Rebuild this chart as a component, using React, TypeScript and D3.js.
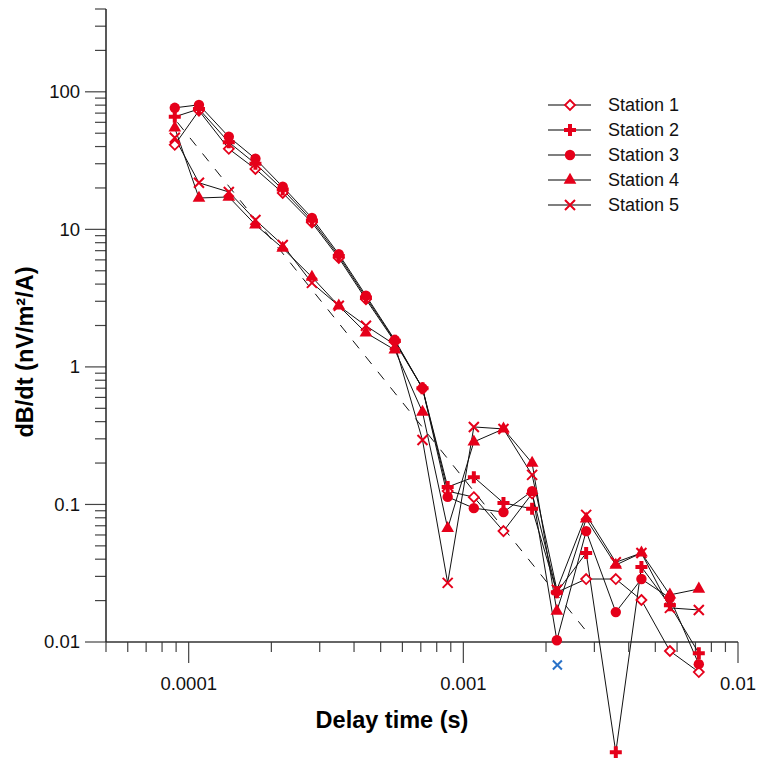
import React, { useEffect, useRef } from 'react';
import * as d3 from 'd3';

// gate times (s)
const times = [8.9e-5, 1.09e-4, 1.4e-4, 1.75e-4, 2.2e-4, 2.81e-4, 3.52e-4, 4.42e-4, 5.63e-4, 7.1e-4,
  8.77e-4, 1.092e-3, 1.4e-3, 1.78e-3, 2.19e-3, 2.8e-3, 3.59e-3, 4.45e-3, 5.65e-3, 7.2e-3];

const station1 = [41.2, 73, 38.5, 27.5, 18.4, 11.2, 6.2, 3.1, 1.52, 0.7, 0.125, 0.113, 0.064, 0.12, 0.023, 0.0287, 0.0287, 0.0202, 0.0086, 0.00605];
const station2 = [65.8, 75, 43, 30, 19.5, 11.6, 6.4, 3.2, 1.55, 0.7, 0.134, 0.158, 0.1026, 0.093, 0.023, 0.0444, 0.00158, 0.0351, 0.0185, 0.0083];
const station3 = [76.5, 80.4, 47.1, 32.6, 20.4, 12.1, 6.6, 3.3, 1.57, 0.7, 0.1135, 0.094, 0.088, 0.125, 0.0103, 0.064, 0.0165, 0.0287, 0.0209, 0.0069];
const station4 = [54.7, 16.9, 17.2, 10.8, 7.3, 4.5, 2.78, 1.77, 1.33, 0.47, 0.067, 0.285, 0.354, 0.2, 0.0168, 0.0785, 0.0363, 0.0444, 0.022, 0.0243];
const station5 = [46.3, 21.8, 18.7, 11.7, 7.7, 4.08, 2.78, 1.99, 1.45, 0.294, 0.0269, 0.366, 0.354, 0.164, 0.024, 0.084, 0.038, 0.0444, 0.0177, 0.0171];

const stationNames = ['Station 1', 'Station 2', 'Station 3', 'Station 4', 'Station 5'];
const markerKinds = ['diamond', 'plus', 'circle', 'triangle', 'cross'];

const xMajor = [1e-4, 1e-3, 1e-2];
const xTickLabels = ['0.0001', '0.001', '0.01'];
const yMajor = [0.01, 0.1, 1, 10, 100];
const yTickLabels = ['0.01', '0.1', '1', '10', '100'];

// dashed reference decay line (t^-2.5)
const trendLine: [number, number][] = [[9.1e-5, 60], [2.85e-3, 0.0115]];
// blue marker below the axis
const outlier: [number, number][] = [[2.2e-3, 0.0068]];

const RED = '#e5001a';
const FONT = 'Arial, "Liberation Sans", sans-serif';

function drawMarker(g: any, kind: string, cx: number, cy: number) {
  if (kind === 'diamond') {
    const s = 5;
    g.append('path')
      .attr('d', `M${cx},${cy - s}L${cx + s},${cy}L${cx},${cy + s}L${cx - s},${cy}Z`)
      .attr('fill', '#fff').attr('stroke', RED).attr('stroke-width', 1.8);
  } else if (kind === 'plus') {
    g.append('path')
      .attr('d', d3.symbol(d3.symbolCross, 80)())
      .attr('transform', `translate(${cx},${cy})`)
      .attr('fill', RED);
  } else if (kind === 'circle') {
    g.append('circle').attr('cx', cx).attr('cy', cy).attr('r', 5.2).attr('fill', RED);
  } else if (kind === 'triangle') {
    g.append('path')
      .attr('d', d3.symbol(d3.symbolTriangle, 70)())
      .attr('transform', `translate(${cx},${cy})`)
      .attr('fill', RED);
  } else {
    const s = 5;
    g.append('path')
      .attr('d', `M${cx - s},${cy - s}L${cx + s},${cy + s}M${cx - s},${cy + s}L${cx + s},${cy - s}`)
      .attr('stroke', RED).attr('stroke-width', 2).attr('fill', 'none');
  }
}

const App = () => {
  const ref = useRef<SVGSVGElement>(null);

  useEffect(() => {
    if (!ref.current) return;
    const svg = d3.select(ref.current);
    svg.selectAll('*').remove();

    const x = d3.scaleLog().domain([5e-5, 1e-2]).range([106, 738]);
    const y = d3.scaleLog().domain([0.01, 400]).range([642, 9]);

    const series = [station1, station2, station3, station4, station5];

    // axes
    const axes = svg.append('g');
    const xMinor = x.ticks().filter(t => !xMajor.some(m => Math.abs(m - t) / m < 1e-6));
    const yMinor = y.ticks().filter(t => !yMajor.some(m => Math.abs(m - t) / m < 1e-6));

    axes.selectAll('.xminor').data(xMinor).join('line')
      .attr('x1', d => x(d)).attr('x2', d => x(d))
      .attr('y1', y(0.01)).attr('y2', y(0.01) + 10)
      .attr('stroke', '#444').attr('stroke-width', 1.2);
    axes.selectAll('.xmajor').data(xMajor).join('line')
      .attr('x1', d => x(d)).attr('x2', d => x(d))
      .attr('y1', y(0.01)).attr('y2', y(0.01) + 21)
      .attr('stroke', '#444').attr('stroke-width', 1.2);
    axes.selectAll('.xlab').data(xMajor).join('text')
      .attr('x', d => x(d)).attr('y', 690)
      .attr('text-anchor', 'middle')
      .style('font-family', FONT).style('font-size', '18.5px').style('fill', '#111')
      .text((d, i) => xTickLabels[i]);

    axes.selectAll('.yminor').data(yMinor).join('line')
      .attr('x1', x(5e-5) - 11).attr('x2', x(5e-5))
      .attr('y1', d => y(d)).attr('y2', d => y(d))
      .attr('stroke', '#444').attr('stroke-width', 1.2);
    axes.selectAll('.ymajor').data(yMajor).join('line')
      .attr('x1', x(5e-5) - 21).attr('x2', x(5e-5))
      .attr('y1', d => y(d)).attr('y2', d => y(d))
      .attr('stroke', '#444').attr('stroke-width', 1.2);
    axes.selectAll('.ylab').data(yMajor).join('text')
      .attr('x', x(5e-5) - 26).attr('y', d => y(d))
      .attr('dy', '0.35em')
      .attr('text-anchor', 'end')
      .style('font-family', FONT).style('font-size', '18.5px').style('fill', '#111')
      .text((d, i) => yTickLabels[i]);

    axes.append('line')
      .attr('x1', x(5e-5)).attr('x2', x(1e-2)).attr('y1', y(0.01)).attr('y2', y(0.01))
      .attr('stroke', '#333').attr('stroke-width', 1.5);
    axes.append('line')
      .attr('x1', x(5e-5)).attr('x2', x(5e-5)).attr('y1', y(0.01)).attr('y2', y(400))
      .attr('stroke', '#222').attr('stroke-width', 1.5);

    // axis titles
    svg.append('text')
      .attr('x', 392).attr('y', 728)
      .attr('text-anchor', 'middle')
      .style('font-family', FONT).style('font-size', '23.5px').style('font-weight', 'bold')
      .text('Delay time (s)');
    svg.append('text')
      .attr('transform', `translate(33, 352) rotate(-90)`)
      .attr('text-anchor', 'middle')
      .style('font-family', FONT).style('font-size', '23.5px').style('font-weight', 'bold')
      .text('dB/dt (nV/m²/A)');

    // dashed trend
    const line = d3.line<[number, number]>().x(d => x(d[0])).y(d => y(d[1]));
    svg.append('path')
      .attr('d', line(trendLine))
      .attr('fill', 'none').attr('stroke', '#111').attr('stroke-width', 1)
      .attr('stroke-dasharray', '10,10');

    // series lines
    series.forEach(vals => {
      const pts = times.map((t, i) => [t, vals[i]] as [number, number]);
      svg.append('path')
        .attr('d', line(pts))
        .attr('fill', 'none').attr('stroke', '#111').attr('stroke-width', 1);
    });

    // markers
    series.forEach((vals, si) => {
      const g = svg.append('g');
      times.forEach((t, i) => drawMarker(g, markerKinds[si], x(t), y(vals[i])));
    });

    // blue cross
    outlier.forEach(d => {
      const cx = x(d[0]), cy = y(d[1]), s = 4.5;
      svg.append('path')
        .attr('d', `M${cx - s},${cy - s}L${cx + s},${cy + s}M${cx - s},${cy + s}L${cx + s},${cy - s}`)
        .attr('stroke', '#2a72c8').attr('stroke-width', 2);
    });

    // legend
    const legend = svg.append('g');
    stationNames.forEach((name, i) => {
      const row = legend.append('g').attr('transform', `translate(0, ${105 + i * 25})`);
      row.append('line')
        .attr('x1', 548).attr('x2', 591).attr('y1', 0).attr('y2', 0)
        .attr('stroke', '#555').attr('stroke-width', 1.5);
      drawMarker(row, markerKinds[i], 570, 0);
      row.append('text')
        .attr('x', 608).attr('y', 0).attr('dy', '0.35em')
        .style('font-family', FONT).style('font-size', '18px').style('fill', '#111')
        .text(name);
    });
  }, []);

  return (
    <svg ref={ref} width={757} height={758}
      style={{ position: 'absolute', left: 0, top: 0, background: '#fff' }} />
  );
};

export default App;
